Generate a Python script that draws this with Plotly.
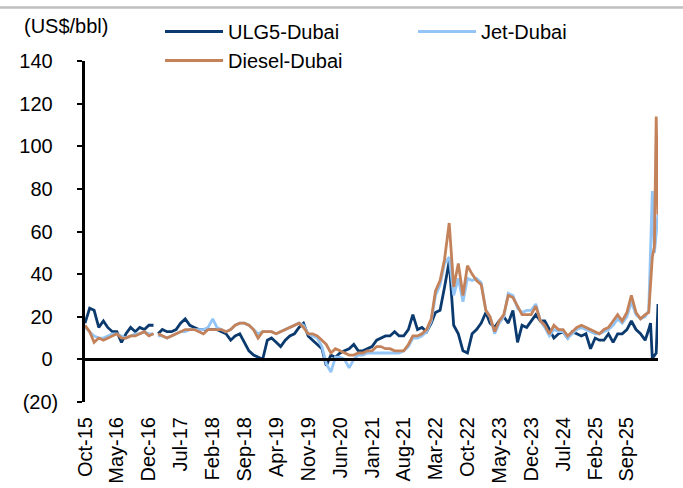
import pandas as pd
import plotly.graph_objects as go

# ---- data (US$/bbl), monthly Oct-15 .. Jan-26 (with a short data gap in Jan-17), then weekly-ish to late Mar-26 ----
monthly_start = "2015-10-01"
n_monthly = 124
gap_date = "2017-01-18"          # break in the source data
extra_dates = ["2026-01-25", "2026-02-06", "2026-02-18", "2026-03-04", "2026-03-16", "2026-03-28"]

ulg5 = [17, 24, 23, 15, 18, 15, 13, 13, 8, 12, 15, 13,
        15, 14, 16, 16, None, 12, 14, 13, 13, 14, 17, 19, 16,
        15, 14, 14, 14, 14, 14, 13, 12, 9, 11, 12, 8,
        4, 2, 1, 0, 9, 10, 8, 6, 9, 11, 12, 15,
        17, 11, 9, 7, 5, -3, 2, 1, 3, 4, 5, 7,
        4, 4, 5, 6, 9, 10, 11, 11, 13, 11, 11, 14,
        21, 14, 15, 13, 17, 22, 23, 34, 46, 16, 12, 4,
        3, 12, 14, 17, 22, 17, 15, 18, 20, 17, 23, 8,
        16, 15, 18, 21, 18, 18, 14, 10, 12, 13, 10, 13,
        12, 11, 12, 5, 10, 9, 9, 12, 8, 12, 12, 14,
        18, 14, 12, 9,
        14, 17, 0.5, 2, 3, 26]

jet = [15, 13, 11, 10, 10, 11, 12, 12, 11, 10, 11, 12,
       12, 13, 12, 12, None, 11, 11, 10, 11, 12, 13, 13, 14,
       14, 14, 14, 15, 19, 15, 14, 13, 14, 16, 17, 17,
       16, 14, 12, 13, 13, 13, 12, 13, 14, 15, 16, 17,
       16, 12, 11, 10, 6, -2, -6, 1, 1, 0, -4, 0,
       2, 2, 3, 3, 3, 3, 3, 3, 3, 3, 4, 6,
       10, 10, 11, 13, 18, 30, 35, 45, 48, 30, 38, 27,
       38, 37, 38, 36, 23, 20, 12, 17, 20, 31, 30, 24,
       22, 23, 23, 26, 18, 15, 11, 14, 13, 13, 10, 12,
       14, 15, 14, 13, 12, 12, 13, 14, 16, 19, 17, 20,
       27, 21, 19, 20,
       23, 50, 79, 50, 60, 68]

diesel = [16, 13, 8, 10, 9, 10, 11, 12, 10, 10, 11, 11,
          12, 13, 11, 12, None, 12, 11, 10, 11, 12, 13, 14, 14,
          14, 13, 12, 14, 14, 14, 14, 13, 14, 16, 17, 17,
          16, 14, 10, 13, 13, 13, 12, 13, 14, 15, 16, 17,
          15, 12, 12, 11, 9, 7, 3, 5, 4, 3, 2, 2,
          3, 3, 4, 4, 6, 6, 5, 5, 4, 4, 4, 7,
          11, 11, 12, 14, 19, 32, 37, 47, 64, 34, 45, 30,
          44, 40, 37, 35, 23, 20, 13, 18, 21, 30, 29, 25,
          21, 21, 21, 25, 18, 16, 12, 16, 14, 14, 11, 13,
          15, 16, 15, 14, 13, 12, 14, 15, 18, 21, 18, 22,
          30, 22, 19, 21,
          22, 37, 48, 53, 114, 68]

tick_dates = ["2015-10-01", "2016-05-01", "2016-12-01", "2017-07-01", "2018-02-01",
              "2018-09-01", "2019-04-01", "2019-11-01", "2020-06-01", "2021-01-01",
              "2021-08-01", "2022-03-01", "2022-10-01", "2023-05-01", "2023-12-01",
              "2024-07-01", "2025-02-01", "2025-09-01"]
tick_labels = ["Oct-15", "May-16", "Dec-16", "Jul-17", "Feb-18", "Sep-18", "Apr-19",
               "Nov-19", "Jun-20", "Jan-21", "Aug-21", "Mar-22", "Oct-22", "May-23",
               "Dec-23", "Jul-24", "Feb-25", "Sep-25"]
y_ticks = [-20, 0, 20, 40, 60, 80, 100, 120, 140]
y_labels = ["(20)", "0\u00a0", "20\u00a0", "40\u00a0", "60\u00a0", "80\u00a0",
            "100\u00a0", "120\u00a0", "140\u00a0"]

monthly = list(pd.date_range(monthly_start, periods=n_monthly, freq="MS").strftime("%Y-%m-%d"))
dates = monthly[:16] + [gap_date] + monthly[16:] + extra_dates

# ---- figure ----
W, H = 683, 488
ML, MR, MT, MB = 85, 25, 61, 86
PW, PH = W - ML - MR, H - MT - MB
def px(x):
    return (x - ML) / PW
def py(y):
    return (H - MB - y) / PH

FONT = "Liberation Sans, Arial, sans-serif"

fig = go.Figure()
fig.add_trace(go.Scatter(x=dates, y=ulg5, name="ULG5-Dubai", mode="lines",
                         line=dict(color="#0B3A6E", width=2.8), legend="legend"))
fig.add_trace(go.Scatter(x=dates, y=jet, name="Jet-Dubai", mode="lines",
                         line=dict(color="#93C5F6", width=2.8), legend="legend2"))
fig.add_trace(go.Scatter(x=dates, y=diesel, name="Diesel-Dubai", mode="lines",
                         line=dict(color="#C4825A", width=2.8), legend="legend"))
# empty helper trace so the zero-crossing axis exists
fig.add_trace(go.Scatter(x=[], y=[], xaxis="x2", showlegend=False, hoverinfo="skip"))

xr = ["2015-10-01", "2026-03-28"]
fig.update_layout(
    width=W, height=H,
    margin=dict(l=ML, r=MR, t=MT, b=MB, autoexpand=False),
    paper_bgcolor="white", plot_bgcolor="white",
    font=dict(family=FONT, size=20, color="black"),
    xaxis=dict(range=xr, showline=False, showgrid=False, zeroline=False,
               tickvals=tick_dates, ticktext=tick_labels, tickangle=-90,
               ticks="", ticklabelstandoff=10, tickfont=dict(size=20)),
    xaxis2=dict(range=xr, overlaying="x", anchor="free", position=20 / 160,
                showline=True, linecolor="black", linewidth=2.5,
                ticks="outside", ticklen=6, tickwidth=2, tickcolor="black",
                tickvals=tick_dates, showticklabels=False, showgrid=False, zeroline=False),
    yaxis=dict(range=[-20, 140], showline=True, linecolor="black", linewidth=2.5,
               ticks="outside", ticklen=5, tickwidth=2, tickcolor="black",
               tickvals=y_ticks, ticktext=y_labels, showgrid=False, zeroline=False,
               ticklabelstandoff=15, tickfont=dict(size=20)),
    legend=dict(x=px(160), y=py(12), xanchor="left", yanchor="top",
                bgcolor="rgba(0,0,0,0)", font=dict(size=20), itemwidth=58,
                tracegroupgap=0),
    legend2=dict(x=px(413), y=py(12), xanchor="left", yanchor="top",
                 bgcolor="rgba(0,0,0,0)", font=dict(size=20), itemwidth=58),
    showlegend=True,
)
fig.add_annotation(text="(US$/bbl)", xref="paper", yref="paper", x=px(22), y=py(26),
                   xanchor="left", yanchor="middle", showarrow=False,
                   font=dict(size=20, family=FONT))
fig.add_shape(type="line", xref="paper", yref="paper", x0=px(0), x1=px(W), y0=py(7.5), y1=py(7.5),
              line=dict(color="#BFBFBF", width=2.5))

fig.write_html("out.html", config={"displayModeBar": False},
               post_script="document.body.style.margin='0px';document.body.style.padding='0px';")
